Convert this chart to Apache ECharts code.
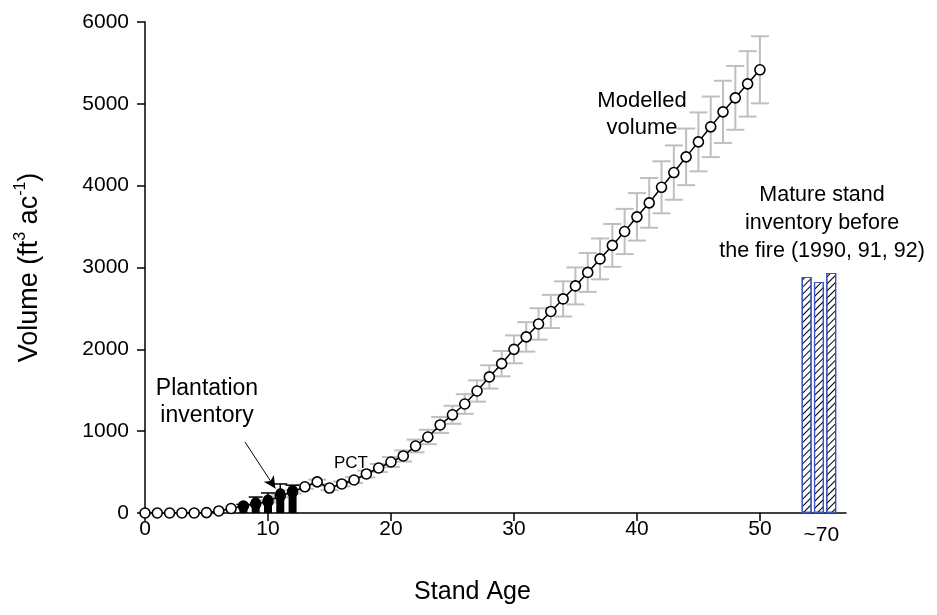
<!DOCTYPE html>
<html><head><meta charset="utf-8">
<script src="https://cdn.jsdelivr.net/npm/echarts@6/dist/echarts.min.js"></script>
<style>html,body{margin:0;padding:0;background:#fff}#c{width:937px;height:615px}</style>
</head><body><div id="c"></div>
<script>
// ---- data ----
const ages = [0,1,2,3,4,5,6,7,8,9,10,11,12,13,14,15,16,17,18,19,20,21,22,23,24,25,26,27,28,29,30,31,32,33,34,35,36,37,38,39,40,41,42,43,44,45,46,47,48,49,50];
const modelVolume = [0,0,0,0,0,5,25,55,85,110,140,210,258,320,380,305,355,403,477,550,623,697,819,929,1076,1200,1332,1491,1663,1825,2000,2152,2310,2463,2616,2775,2940,3105,3270,3440,3619,3790,3980,4160,4352,4535,4719,4902,5073,5244,5416];
const modelError = [0,0,0,0,0,0,0,0,0,0,12,16,20,24,28,26,30,36,42,50,60,68,78,88,98,110,120,130,142,155,170,180,192,203,215,226,238,250,262,276,290,304,318,332,346,360,370,380,390,400,410];
const plantAges = [8,9,10,11,12];
const plantVolume = [85,130,165,240,280];
const plantError = [20,65,80,115,60];
const matureX = [53.8,54.8,55.8];
const matureVolume = [2885,2824,2934];
const xTickValues = [0,10,20,30,40,50];
const matureLabelPos = 55;
const matureLabelText = '~70';
const yTickValues = [0,1000,2000,3000,4000,5000,6000];

const FONT = '"Liberation Sans", Arial, Helvetica, sans-serif';

const chart = echarts.init(document.getElementById('c'));

const modelData = ages.map((a,i)=>[a, modelVolume[i], modelError[i]]);
const plantData = plantAges.map((a,i)=>[a, plantVolume[i], plantError[i]]);
const matureData = matureX.map((x,i)=>[x, matureVolume[i]]);

const option = {
  animation:false,
  backgroundColor:'#fff',
  grid:{left:145, top:22, right:91, bottom:102, containLabel:false},
  xAxis:{
    type:'value', min:0, max:57, interval:10,
    name:'Stand Age', nameLocation:'middle', nameGap:67,
    nameTextStyle:{fontFamily:FONT, fontSize:25, color:'#000', padding:[0,46,0,0]},
    axisLine:{show:true, onZero:false, lineStyle:{color:'#000', width:1.5}},
    axisTick:{show:true, length:8, lineStyle:{color:'#000', width:1.5}, customValues:xTickValues},
    axisLabel:{fontFamily:FONT, fontSize:21, color:'#000', margin:6,
      customValues:xTickValues.concat([matureLabelPos]),
      formatter:(v)=> v===matureLabelPos ? '{m|'+matureLabelText+'}' : String(v),
      rich:{m:{fontFamily:FONT, fontSize:21, color:'#000', padding:[6,0,0,0]}}},
    splitLine:{show:false}
  },
  yAxis:{
    type:'value', min:0, max:6000, interval:1000,
    name:'{n|Volume (ft}{s|3}{n| ac}{s|-1}{n|)}', nameLocation:'middle', nameGap:99,
    nameTextStyle:{fontFamily:FONT, color:'#000', rich:{
      n:{fontFamily:FONT, fontSize:27, color:'#000', lineHeight:33},
      s:{fontFamily:FONT, fontSize:16, color:'#000', verticalAlign:'top', lineHeight:33}
    }},
    axisLine:{show:true, lineStyle:{color:'#000', width:1.5}},
    axisTick:{show:true, length:8, lineStyle:{color:'#000', width:1.5}},
    axisLabel:{fontFamily:FONT, fontSize:21, color:'#000', margin:16, formatter:(v)=>String(v)},
    splitLine:{show:false}
  },
  series:[
    {
      type:'custom', name:'modelErr', z:1, data:modelData, encode:{x:0,y:1},
      renderItem:(params, api)=>{
        const x=api.value(0), v=api.value(1), e=api.value(2);
        if(!e) return {type:'group', children:[]};
        const t=api.coord([x,v+e]), b=api.coord([x,v-e]); const hw=9;
        const st={stroke:'#bfbfbf', lineWidth:2};
        return {type:'group', children:[
          {type:'line', shape:{x1:t[0],y1:t[1],x2:b[0],y2:b[1]}, style:st},
          {type:'line', shape:{x1:t[0]-hw,y1:t[1],x2:t[0]+hw,y2:t[1]}, style:st},
          {type:'line', shape:{x1:b[0]-hw,y1:b[1],x2:b[0]+hw,y2:b[1]}, style:st}
        ]};
      }
    },
    {
      type:'line', name:'Modelled volume', z:3, data:modelData.map(d=>[d[0],d[1]]),
      symbol:'circle', symbolSize:10, showAllSymbol:true,
      lineStyle:{color:'#000', width:1.5},
      itemStyle:{color:'#fff', borderColor:'#000', borderWidth:1.6},
      markLine:{
        silent:true, symbol:['none','arrow'], symbolSize:[9,12],
        lineStyle:{color:'#000', width:1, type:'solid'}, label:{show:false},
        data:[[{coord:[8.13,868]},{coord:[10.6,300]}]]
      }
    },
    {
      type:'custom', name:'Plantation', z:5, data:plantData, encode:{x:0,y:1},
      renderItem:(params, api)=>{
        const x=api.value(0), v=api.value(1), e=api.value(2);
        const p0=api.coord([x,0]), p1=api.coord([x,v]), pe=api.coord([x,v+e]);
        const w=8, hw=7;
        const st={stroke:'#000', lineWidth:1.5};
        return {type:'group', children:[
          {type:'line', shape:{x1:p1[0],y1:p1[1],x2:pe[0],y2:pe[1]}, style:st},
          {type:'line', shape:{x1:pe[0]-hw,y1:pe[1],x2:pe[0]+hw,y2:pe[1]}, style:st},
          {type:'rect', shape:{x:p1[0]-w/2, y:p1[1], width:w, height:p0[1]-p1[1]}, style:{fill:'#000'}},
          {type:'circle', shape:{cx:p1[0], cy:p1[1], r:5}, style:{fill:'#000'}}
        ]};
      }
    },
    {
      type:'bar', name:'Mature', z:2, data:matureData, barWidth:10,
      itemStyle:{color:'#fff', borderColor:'#3a56c0', borderWidth:1.2,
        decal:{symbol:'rect', symbolSize:1, color:'#000', dashArrayX:[1,0], dashArrayY:[1,4], rotation:-Math.PI/4}}
    }
  ],
  graphic:[
    {type:'text', x:642, y:87, style:{text:'Modelled\nvolume', fill:'#000', font:'22px '+FONT, align:'center', verticalAlign:'top', lineHeight:27}},
    {type:'text', x:822, y:181, style:{text:'Mature stand\ninventory before\nthe fire (1990, 91, 92)', fill:'#000', font:'21.5px '+FONT, align:'center', verticalAlign:'top', lineHeight:28}},
    {type:'text', x:207, y:375, style:{text:'Plantation\ninventory', fill:'#000', font:'23px '+FONT, align:'center', verticalAlign:'top', lineHeight:27}},
    {type:'text', x:351, y:455, style:{text:'PCT', fill:'#000', font:'17px '+FONT, align:'center', verticalAlign:'top'}}
  ]
};
chart.setOption(option);
</script></body></html>
